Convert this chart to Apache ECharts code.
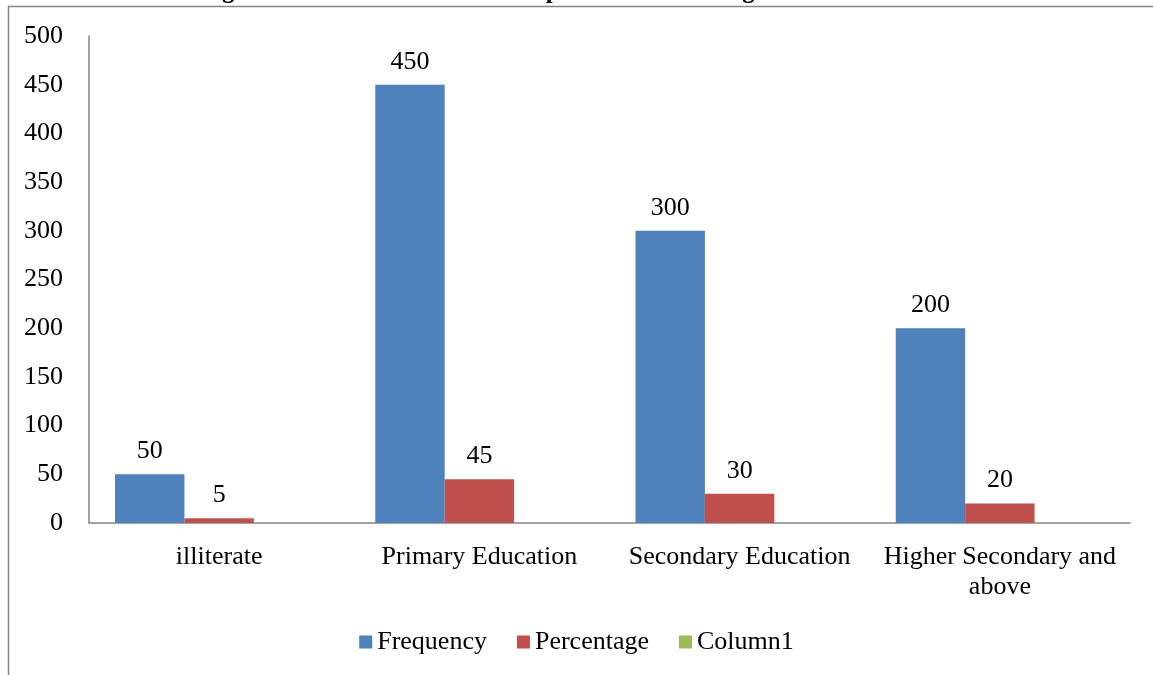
<!DOCTYPE html>
<html>
<head>
<meta charset="utf-8">
<style>
  html, body { margin: 0; padding: 0; background: #fff; }
  #chart { width: 1153px; height: 675px; }
</style>
<script src="https://cdn.jsdelivr.net/npm/echarts@6/dist/echarts.min.js"></script>
</head>
<body>
<div id="chart"></div>
<script>
// Education level of respondents
const categories = ['illiterate', 'Primary Education', 'Secondary Education', 'Higher Secondary and\nabove'];
const frequency = [50, 450, 300, 200];
const percentage = [5, 45, 30, 20];
const column1 = [null, null, null, null];
const seriesNames = ['Frequency', 'Percentage', 'Column1'];
const titleText = 'Figure 4: Distribution of the Respondents according to Educational Status';

const FONT = '"Liberation Serif", "Times New Roman", serif';
const AXIS_GRAY = '#868686';
const FS = 26;

const chart = echarts.init(document.getElementById('chart'), null, { renderer: 'canvas' });

const labelStyle = {
  show: true,
  position: 'top',
  distance: 10,
  color: '#000',
  fontFamily: FONT,
  fontSize: FS
};

chart.setOption({
  animation: false,
  backgroundColor: '#fff',
  graphic: [
    {
      type: 'rect',
      shape: { x: 8.5, y: 6.5, width: 1160, height: 700 },
      style: { fill: 'none', stroke: AXIS_GRAY, lineWidth: 1.5 },
      silent: true
    },
    {
      type: 'text',
      x: 595,
      y: 4,
      style: {
        text: titleText,
        fill: '#000',
        font: 'bold 25px ' + FONT,
        textAlign: 'center',
        textVerticalAlign: 'bottom'
      },
      silent: true
    }
  ],
  grid: { left: 89, right: 23, top: 36, bottom: 152, containLabel: false },
  legend: {
    data: seriesNames,
    top: 624,
    left: 'center',
    itemWidth: 13,
    itemHeight: 13,
    itemGap: 30,
    icon: 'rect',
    textStyle: { fontFamily: FONT, fontSize: FS, color: '#000' }
  },
  xAxis: {
    type: 'category',
    data: categories,
    axisLine: { show: true, lineStyle: { color: AXIS_GRAY, width: 1.5 } },
    axisTick: { show: false },
    axisLabel: {
      interval: 0,
      margin: 19,
      color: '#000',
      fontFamily: FONT,
      fontSize: FS,
      lineHeight: 30
    }
  },
  yAxis: {
    type: 'value',
    min: 0,
    max: 500,
    interval: 50,
    axisLine: { show: true, lineStyle: { color: AXIS_GRAY, width: 1.5 } },
    axisTick: { show: false },
    splitLine: { show: false },
    axisLabel: {
      margin: 26,
      color: '#000',
      fontFamily: FONT,
      fontSize: FS
    }
  },
  series: [
    {
      name: seriesNames[0],
      type: 'bar',
      data: frequency,
      itemStyle: { color: '#4F81BD' },
      barGap: '0%',
      barCategoryGap: '20%',
      label: labelStyle
    },
    {
      name: seriesNames[1],
      type: 'bar',
      data: percentage,
      itemStyle: { color: '#C0504D' },
      label: labelStyle
    },
    {
      name: seriesNames[2],
      type: 'bar',
      data: column1,
      itemStyle: { color: '#9BBB59' },
      label: labelStyle
    }
  ]
});
</script>
</body>
</html>
